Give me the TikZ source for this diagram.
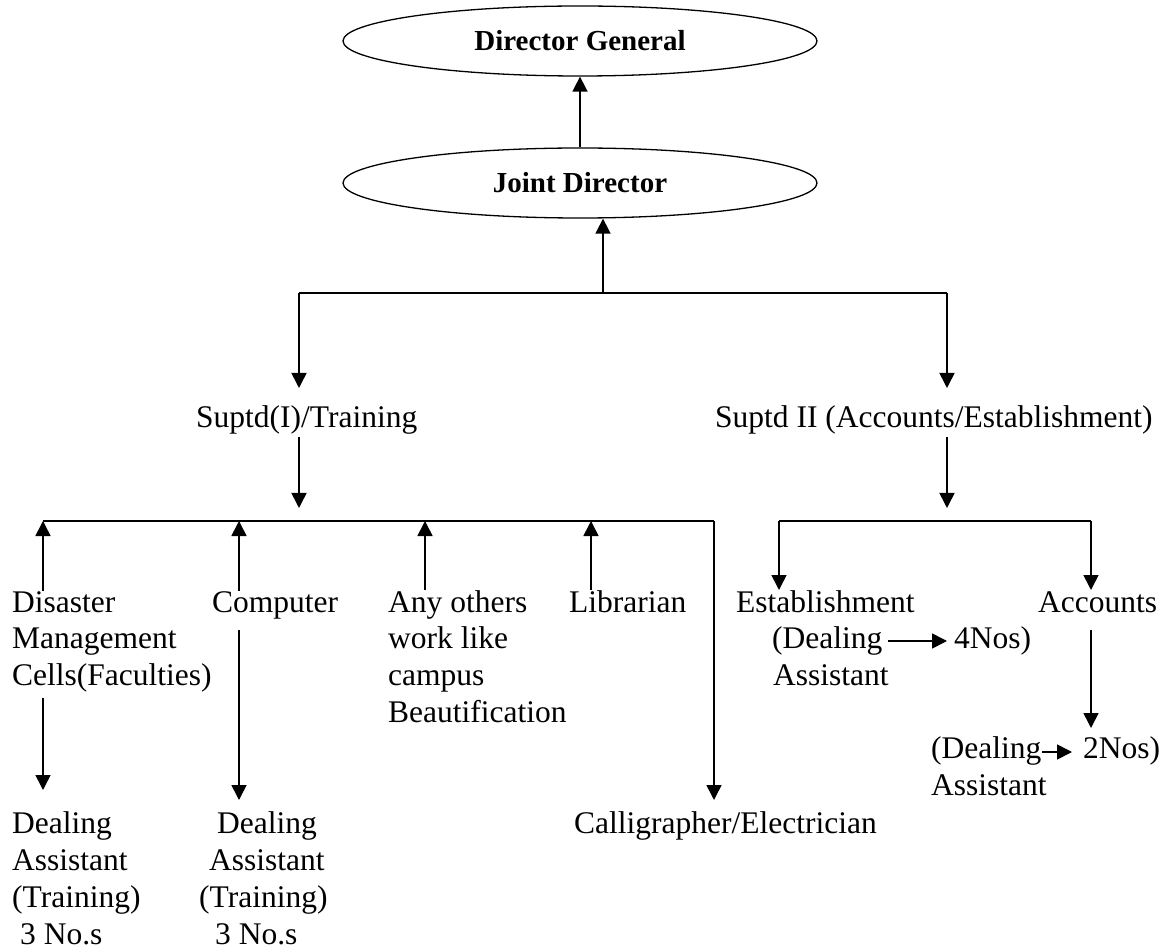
\documentclass[tikz,border=0pt]{standalone}
\usepackage{fontspec}
\setmainfont{Liberation Serif}
\usetikzlibrary{arrows.meta,shapes.geometric}
\begin{document}
\begin{tikzpicture}[x=1pt,y=-1pt,
  txt/.style={anchor=base west,inner sep=0pt,font=\fontsize{31.5}{37}\selectfont},
  oval/.style={draw,ellipse,line width=1.3pt,minimum width=474pt,minimum height=70pt,inner sep=0pt,font=\fontsize{29}{34}\selectfont\bfseries},
  arr/.style={line width=1.6pt,-{Triangle[length=15pt,width=15pt]}},
  ln/.style={line width=1.6pt}]
\useasboundingbox[fill=white] (0,0) rectangle (1168,949);
% top
\node[oval] (dg) at (580,41) {Director General};
\node[oval] (jd) at (580,183) {Joint Director};
\draw[arr] (jd) -- (dg);
\coordinate (top) at (603,293);
\coordinate (tl) at (299,293);
\coordinate (tr) at (947,293);
\coordinate (tlend) at (299,388);
\coordinate (trend) at (947,388);
\draw[ln] (tl) -- (tr);
\draw[arr] (top) -- (top |- jd.south);
\draw[arr] (tl) -- (tlend);
\draw[arr] (tr) -- (trend);
% second level
\node[txt] (s1) at (196,428) {Suptd(I)/Training};
\node[txt] (s2) at (715,428) {Suptd II (Accounts/Establishment)};
\coordinate (s1a) at (299,437);
\coordinate (s1b) at (299,508);
\coordinate (s2a) at (947,437);
\coordinate (s2b) at (947,508);
\draw[arr] (s1a) -- (s1b);
\draw[arr] (s2a) -- (s2b);
% left bus
\coordinate (b1) at (43,521);
\coordinate (b2) at (239,521);
\coordinate (b3) at (425,521);
\coordinate (b4) at (591,521);
\coordinate (b5) at (714,521);
\draw[ln] (b1) -- (b5);
% right bus
\coordinate (r1) at (779,521);
\coordinate (r2) at (1091,521);
\draw[ln] (r1) -- (r2);
% third level texts
\node[txt] (dis1) at (12,612) {Disaster};
\node[txt] (dis2) at (12,648) {Management};
\node[txt] (dis3) at (12,685) {Cells(Faculties)};
\node[txt] (comp) at (212,612) {Computer};
\node[txt] (any1) at (388,612) {Any others};
\node[txt] (any2) at (388,648) {work like};
\node[txt] (any3) at (388,685) {campus};
\node[txt] (any4) at (388,722) {Beautification};
\node[txt] (lib) at (569,612) {Librarian};
\node[txt] (est1) at (736,612) {Establishment};
\node[txt] (est2) at (772,648) {(Dealing};
\node[txt] (est3) at (773,685) {Assistant};
\node[txt] (est4) at (954,648) {4Nos)};
\node[txt] (acc) at (1038,612) {Accounts};
\node[txt] (acd1) at (931,758) {(Dealing};
\node[txt] (acd2) at (1083,758) {2Nos)};
\node[txt] (acd3) at (931,795) {Assistant};
% bottom texts
\node[txt] (da1) at (12,833) {Dealing};
\node[txt] (da2) at (12,870) {Assistant};
\node[txt] (da3) at (12,907) {(Training)};
\node[txt] (da4) at (20,944) {3 No.s};
\node[txt] (db1) at (217,833) {Dealing};
\node[txt] (db2) at (209,870) {Assistant};
\node[txt] (db3) at (199,907) {(Training)};
\node[txt] (db4) at (215,944) {3 No.s};
\node[txt] (cal) at (574,833) {Calligrapher/Electrician};
% up arrows to left bus
\draw[arr] (b1 |- dis1.north) -- (b1);
\draw[arr] (b2 |- comp.north) -- (b2);
\draw[arr] (b3 |- any1.north) -- (b3);
\draw[arr] (b4 |- lib.north) -- (b4);
% down arrows
\coordinate (calend) at (714,800);
\draw[arr] (b5) -- (calend);
\coordinate (disA) at (43,698);
\coordinate (disB) at (43,790);
\draw[arr] (disA) -- (disB);
\coordinate (compA) at (239,630);
\coordinate (compB) at (239,800);
\draw[arr] (compA) -- (compB);
% right side arrows
\coordinate (r1end) at (779,590);
\coordinate (r2end) at (1091,590);
\draw[arr] (r1) -- (r1end);
\draw[arr] (r2) -- (r2end);
\coordinate (accA) at (1091,630);
\coordinate (accB) at (1091,728);
\draw[arr] (accA) -- (accB);
\coordinate (estA) at (888,641);
\coordinate (estB) at (947,641);
\draw[arr] (estA) -- (estB);
\coordinate (acdA) at (1042,752);
\coordinate (acdB) at (1072,752);
\draw[arr] (acdA) -- (acdB);
\end{tikzpicture}
\end{document}
